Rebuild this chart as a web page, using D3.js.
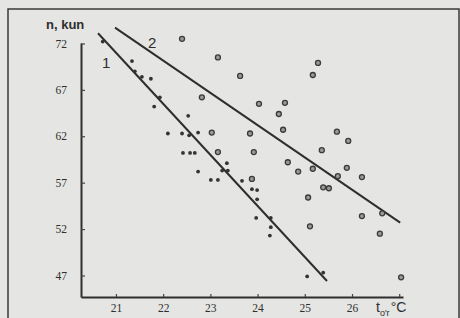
<!doctype html>
<html lang="uz">
<head>
<meta charset="utf-8">
<title>n, kun</title>
<style>
  html, body { margin: 0; padding: 0; background: #e5e5e3; }
  svg { display: block; }
  text { fill: #2e2e2e; }
</style>
</head>
<body>
<div id="chart"></div>
<script src="https://d3js.org/d3.v7.min.js"></script>
<script>
// series 1 (small dots)
var temp1 = [20.72, 21.34, 21.40, 21.55, 21.74, 21.93, 21.81, 22.53, 22.10, 22.40, 22.55, 22.74, 22.42, 22.57, 22.67,
             23.35, 23.25, 23.37, 22.74, 23.01, 23.16, 23.67, 23.88, 23.99, 23.99, 23.97, 24.28, 24.28, 24.26, 25.05, 25.39];
var days1 = [72.2, 70.1, 69.0, 68.4, 68.2, 66.2, 65.2, 64.2, 62.3, 62.3, 62.1, 62.4, 60.2, 60.2, 60.2,
             59.1, 58.3, 58.3, 58.2, 57.3, 57.3, 57.2, 56.3, 56.2, 55.2, 53.2, 53.2, 52.2, 51.3, 46.9, 47.3];
// series 2 (circles)
var temp2 = [22.40, 23.16, 22.82, 23.63, 25.28, 25.17, 24.03, 24.58, 24.45, 23.03, 23.84, 24.54, 25.68, 25.92, 23.16, 23.92,
             25.36, 23.88, 24.64, 24.86, 25.17, 25.70, 25.89, 26.21, 25.39, 25.51, 25.07, 26.21, 26.64, 25.11, 26.59, 27.04];
var days2 = [72.5, 70.5, 66.2, 68.5, 69.9, 68.6, 65.5, 65.6, 64.4, 62.4, 62.3, 62.7, 62.5, 61.5, 60.3, 60.3,
             60.5, 57.4, 59.2, 58.2, 58.5, 57.7, 58.6, 57.6, 56.5, 56.4, 55.4, 53.4, 53.7, 52.3, 51.5, 46.8];
// regression lines: [x0, y0, x1, y1]
var line1 = [20.62, 73.1, 25.47, 46.4];
var line2 = [20.98, 73.7, 27.02, 52.7];
var xTicks = [21, 22, 23, 24, 25, 26, 27];
var yTicks = [47, 52, 57, 62, 67, 72];

var width = 460, height = 318;
var svg = d3.select("#chart").append("svg")
    .attr("width", width).attr("height", height);

// page frame
svg.append("rect")
    .attr("x", 8).attr("y", 9).attr("width", 451).attr("height", 330)
    .attr("fill", "none").attr("stroke", "#3a3a3a").attr("stroke-width", 1.5);

var x = d3.scaleLinear().domain([20.26, 27.08]).range([81, 403]);
var y = d3.scaleLinear().domain([44.68, 72.05]).range([297, 43]);

var xAxis = svg.append("g")
    .attr("transform", "translate(0," + y(44.68) + ")")
    .call(d3.axisBottom(x).tickValues(xTicks).tickSizeInner(-3).tickSizeOuter(0).tickPadding(7)
        .tickFormat(function(d) { return d == 27 ? "" : d; }));
var yAxis = svg.append("g")
    .attr("transform", "translate(" + x(20.26) + ",0)")
    .call(d3.axisLeft(y).tickValues(yTicks).tickSizeInner(-4).tickSizeOuter(0).tickPadding(14));

svg.selectAll(".domain").attr("stroke", "#2e2e2e").attr("stroke-width", 2);
svg.selectAll(".tick line").attr("stroke", "#444").attr("stroke-width", 1.2);
svg.selectAll(".tick text").style("font-family", "Liberation Serif, serif")
    .style("font-size", "11.5px").attr("fill", "#333");

// regression lines
[line1, line2].forEach(function(l) {
    svg.append("line")
        .attr("x1", x(l[0])).attr("y1", y(l[1]))
        .attr("x2", x(l[2])).attr("y2", y(l[3]))
        .attr("stroke", "#2e2e2e").attr("stroke-width", 2);
});

// points
svg.selectAll(".p1").data(d3.zip(temp1, days1)).enter().append("circle")
    .attr("cx", function(d) { return x(d[0]); })
    .attr("cy", function(d) { return y(d[1]); })
    .attr("r", 1.9).attr("fill", "#333");

svg.selectAll(".p2").data(d3.zip(temp2, days2)).enter().append("circle")
    .attr("cx", function(d) { return x(d[0]); })
    .attr("cy", function(d) { return y(d[1]); })
    .attr("r", 2.5).attr("fill", "#9a9a9a")
    .attr("stroke", "#3a3a3a").attr("stroke-width", 1.3);

// labels
svg.append("text").attr("x", 46).attr("y", 29)
    .style("font-family", "Liberation Sans, Arial, sans-serif").style("font-size", "13px")
    .style("font-weight", "bold").attr("fill", "#444").text("n, kun");
svg.append("text").attr("x", 102).attr("y", 68)
    .style("font-family", "Liberation Sans, Arial, sans-serif").style("font-size", "15px")
    .attr("fill", "#444").text("1");
svg.append("text").attr("x", 148).attr("y", 48)
    .style("font-family", "Liberation Sans, Arial, sans-serif").style("font-size", "15px")
    .attr("fill", "#444").text("2");

var tl = svg.append("text").attr("x", 376).attr("y", 312)
    .style("font-family", "Liberation Sans, Arial, sans-serif").style("font-size", "14px")
    .attr("fill", "#333");
tl.append("tspan").text("t");
tl.append("tspan").attr("dy", 4).style("font-size", "9px").text("o'r");
tl.append("tspan").attr("dy", -4).attr("dx", 1).text("°C");
</script>
</body>
</html>
